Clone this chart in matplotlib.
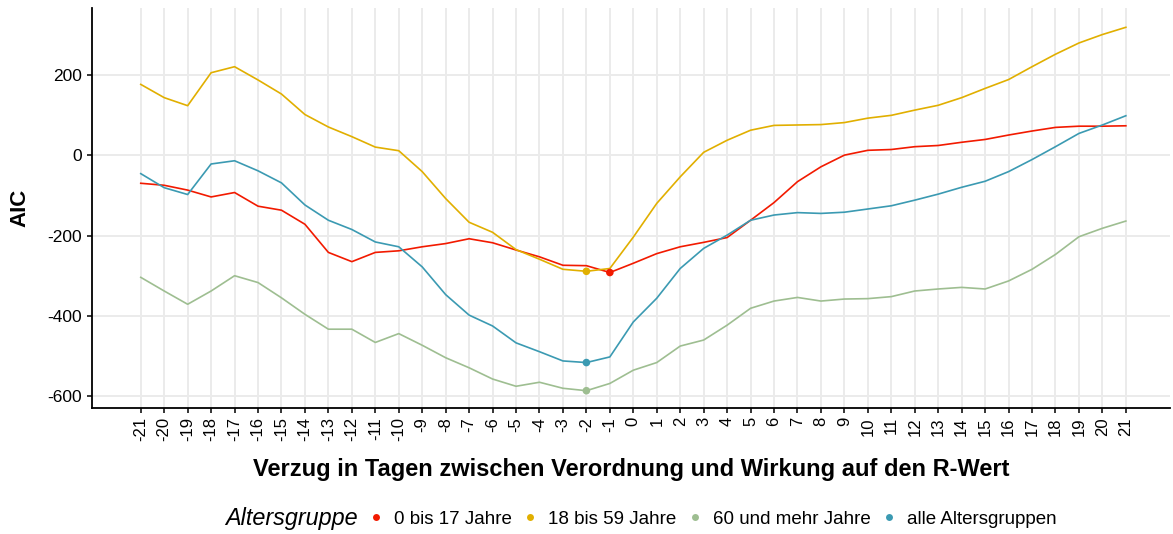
import numpy as np
import matplotlib
matplotlib.use("Agg")
import matplotlib.pyplot as plt
from matplotlib.lines import Line2D

plt.rcParams['font.family'] = ['Liberation Sans', 'DejaVu Sans']

# Verzug in Tagen
lags = list(range(-21, 22))

aic_0_17 = [-70, -75, -87, -104, -93, -127, -137, -172, -242, -265, -242, -238, -228,
            -220, -208, -218, -236, -253, -274, -275, -292, -269, -245, -228, -217, -205,
            -162, -118, -66, -29, 0, 12, 14, 21, 24, 32, 39, 50, 60, 69, 72, 72, 73]
aic_18_59 = [176, 143, 123, 205, 220, 187, 152, 101, 70, 46, 20, 11, -41, -108, -167,
             -192, -235, -259, -284, -289, -282, -204, -120, -54, 7, 37, 62, 74, 75, 76,
             81, 92, 99, 112, 124, 143, 166, 188, 220, 251, 279, 300, 318]
aic_60plus = [-304, -338, -371, -338, -300, -317, -355, -396, -433, -433, -466, -444,
              -473, -504, -529, -557, -575, -565, -580, -586, -568, -535, -516, -475,
              -460, -423, -381, -363, -354, -363, -358, -357, -352, -338, -333, -329,
              -333, -313, -284, -247, -203, -182, -164]
aic_alle = [-46, -81, -98, -22, -14, -39, -69, -124, -162, -185, -216, -228, -278, -347,
            -398, -425, -467, -489, -512, -516, -502, -415, -356, -282, -232, -199, -162,
            -149, -143, -145, -142, -134, -126, -112, -97, -80, -65, -41, -11, 21, 54,
            75, 98]

series_labels = ['0 bis 17 Jahre', '18 bis 59 Jahre', '60 und mehr Jahre', 'alle Altersgruppen']
series_values = [aic_0_17, aic_18_59, aic_60plus, aic_alle]
colors = ['#F21A00', '#E1AF00', '#9EBE91', '#3B9AB2']

y_ticks = [-600, -400, -200, 0, 200]

fig = plt.figure(figsize=(11.73, 5.34), dpi=100)
ax = fig.add_axes([0.0784, 0.236, 0.919, 0.749])

x = np.array(lags)
for vals, col in zip(series_values, colors):
    v = np.array(vals)
    ax.plot(x, v, color=col, linewidth=1.2, zorder=3)
    # Punkt am Minimum
    i = int(np.argmin(v))
    ax.scatter(x[i], v[i], color=col, s=30, zorder=4, edgecolors='none')

ax.set_xlim(-23.08, 22.88)
ax.set_ylim(-629, 366)
ax.set_xticks(lags)
ax.set_xticklabels([str(d) for d in lags], rotation=90, fontsize=12)
ax.set_yticks(y_ticks)
ax.set_yticklabels([str(t) for t in y_ticks], fontsize=12.5)

ax.grid(True, color='#EBEBEB', linewidth=1.4, zorder=0)
ax.set_axisbelow(True)
for s in ['top', 'right']:
    ax.spines[s].set_visible(False)
for s in ['left', 'bottom']:
    ax.spines[s].set_linewidth(1.3)
    ax.spines[s].set_color('black')
ax.tick_params(axis='both', length=3.5, width=1.1, color='black')
ax.tick_params(axis='y', pad=4)
ax.tick_params(axis='x', pad=3)

ax.set_xlabel('Verzug in Tagen zwischen Verordnung und Wirkung auf den R-Wert',
              fontsize=17, fontweight='bold', labelpad=12)
ax.set_ylabel('AIC', fontsize=16, fontweight='bold', labelpad=12)

# Legende unten, Titel links daneben
fig.text(225 / 1173, 1 - 519 / 534, 'Altersgruppe', fontsize=16.8, style='italic',
         ha='left', va='center')
handles = [Line2D([], [], linestyle='none', marker='o', markersize=5,
                  markerfacecolor=c, markeredgecolor='none') for c in colors]
fig.legend(handles, series_labels, loc='center left', ncol=4,
           bbox_to_anchor=(371 / 1173, 1 - 519 / 534), frameon=False, fontsize=13.5,
           handlelength=0.5, handletextpad=0.7, columnspacing=0.75, borderaxespad=0,
           borderpad=0)

fig.savefig('out.png', dpi=100)
